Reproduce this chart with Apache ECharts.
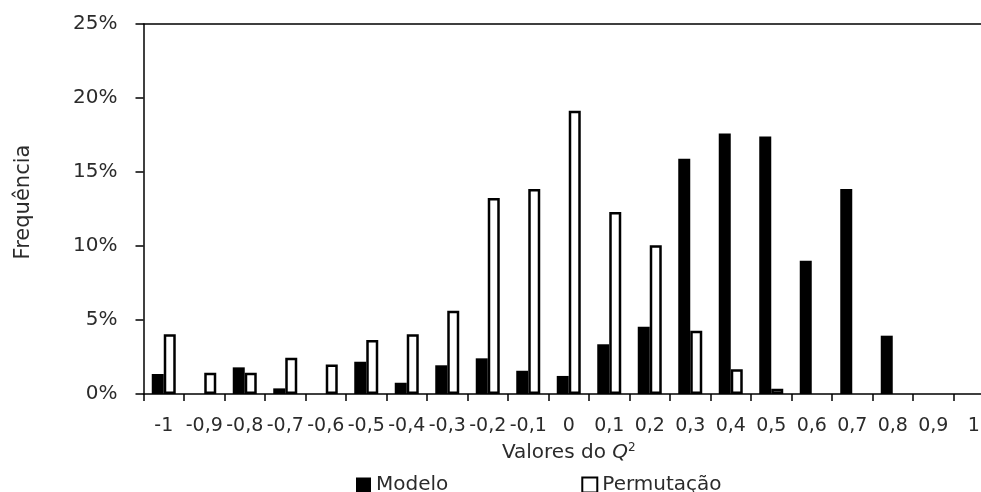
<!DOCTYPE html>
<html>
<head>
<meta charset="utf-8">
<script src="https://cdn.jsdelivr.net/npm/echarts@6/dist/echarts.min.js"></script>
<style>html,body{margin:0;padding:0;background:#fff;overflow:hidden;width:981px;height:492px;}#chart{width:1010px;height:492px;}</style>
</head>
<body>
<div id="chart"></div>
<script>
const categories = ["-1","-0,9","-0,8","-0,7","-0,6","-0,5","-0,4","-0,3","-0,2","-0,1","0","0,1","0,2","0,3","0,4","0,5","0,6","0,7","0,8","0,9","1"];
const modelo = [1.35, null, 1.8, 0.38, null, 2.18, 0.76, 1.94, 2.41, 1.57, 1.22, 3.36, 4.55, 15.9, 17.6, 17.4, 9.0, 13.85, 3.94, null, null];
const permutacao = [4.03, 1.44, 1.44, 2.45, 2.0, 3.65, 4.03, 5.63, 13.24, 13.85, 19.14, 12.3, 10.05, 4.28, 1.67, 0.36, null, null, null, null, null];
const yTicks = { min: 0, max: 25, interval: 5 };

const font = 'DejaVu Sans';
const txt = '#2b2b2b';
const chart = echarts.init(document.getElementById('chart'));
chart.setOption({
  animation: false,
  backgroundColor: '#fff',
  grid: { left: 143.5, width: 850.5, top: 24, height: 370, containLabel: false },
  legend: {
    left: 351, top: 470, itemWidth: 15, itemHeight: 15, itemGap: 133, icon: 'rect',
    textStyle: { fontFamily: font, fontSize: 20, color: txt },
    data: ['Modelo', 'Permutação']
  },
  xAxis: [{
    type: 'category', data: categories,
    axisLine: { lineStyle: { color: '#000', width: 1.5 } },
    axisTick: { show: true, alignWithLabel: false, length: 7, lineStyle: { color: '#000', width: 1.5 } },
    axisLabel: { interval: 0, margin: 23, fontFamily: font, fontSize: 19, color: txt },
    name: 'Valores do {q|Q}{s|2}', nameLocation: 'middle', nameGap: 48,
    nameTextStyle: { fontFamily: font, fontSize: 20, color: txt,
      rich: { q: { fontFamily: font, fontSize: 20, fontStyle: 'italic', color: txt },
              s: { fontFamily: font, fontSize: 12, color: txt, verticalAlign: 'top', padding: [0,0,9,0] } } }
  }, {
    type: 'category', data: categories, position: 'top',
    axisLine: { show: true, lineStyle: { color: '#000', width: 1.5 } },
    axisTick: { show: false }, axisLabel: { show: false }
  }],
  yAxis: {
    type: 'value', min: yTicks.min, max: yTicks.max, interval: yTicks.interval,
    axisLine: { show: true, lineStyle: { color: '#000', width: 1.5 } },
    axisTick: { show: true, length: 8, lineStyle: { color: '#000', width: 1.5 } },
    splitLine: { show: false },
    axisLabel: { formatter: '{value}%', margin: 26, fontFamily: font, fontSize: 20, color: txt },
    name: 'Frequência', nameLocation: 'middle', nameGap: 109, nameRotate: 90,
    nameTextStyle: { fontFamily: font, fontSize: 21, color: txt, padding: [0, 0, 0, 14] }
  },
  series: [{
    name: 'Modelo', type: 'bar', data: modelo, barWidth: 12, barGap: '0%',
    itemStyle: { color: '#000', borderColor: '#000', borderWidth: 0 }
  }, {
    name: 'Permutação', type: 'bar', data: permutacao, barWidth: 12, barGap: '0%',
    itemStyle: { color: '#fff', borderColor: '#000', borderWidth: 2.5 }
  }]
});
</script>
</body>
</html>
